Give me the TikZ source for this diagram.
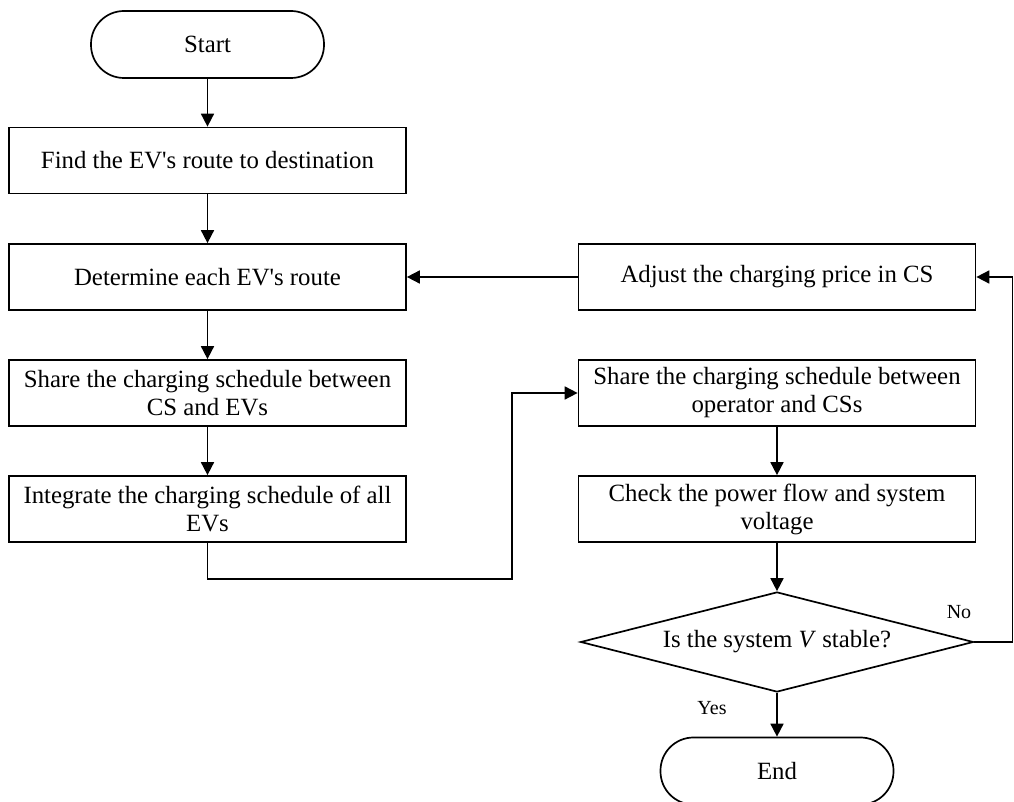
\documentclass[tikz,border=0pt]{standalone}
\usepackage{fontspec}
\setmainfont{Liberation Serif}
\usepackage{tikz}
\usetikzlibrary{arrows.meta,shapes.geometric,positioning}

\tikzset{
	proc/.style={draw,rectangle,line width=0.85pt,minimum width=198.5pt,minimum height=33pt,
		inner sep=1pt,align=center,font=\fontsize{12.4}{14}\selectfont},
	term/.style={draw,rectangle,rounded corners=16.5pt,line width=0.85pt,minimum width=116.5pt,
		minimum height=33.5pt,font=\fontsize{12.4}{14}\selectfont},
	decide/.style={draw,diamond,aspect=4,inner sep=0pt,line width=0.85pt,minimum width=196.5pt,
		minimum height=50pt,font=\fontsize{12.4}{14}\selectfont},
	flow/.style={-{Triangle[length=6.5pt,width=6.5pt]},line width=0.85pt},
	lbl/.style={font=\fontsize{10}{12}\selectfont,inner sep=0pt}
}

\begin{document}
\begin{tikzpicture}[x=0.5pt,y=-0.5pt]

	\useasboundingbox (0,0) rectangle (1014,802);

	\node[term] (start) at (207.5,44.5) {Start};
	\node[proc] (find) at (207.5,160.5) {Find the EV\textquotesingle s route to destination};
	\node[proc] (det) at (207.5,277) {Determine each EV\textquotesingle s route};
	\node[proc] (shareL) at (207.5,393) {Share the charging schedule between\\CS and EVs};
	\node[proc] (integ) at (207.5,509) {Integrate the charging schedule of all\\EVs};

	\node[proc] (adjust) at (777,277) {Adjust the charging price in CS};
	\node[proc] (shareR) at (777,393) {Share the charging schedule between\\operator and CSs};
	\node[proc] (check) at (777,509) {Check the power flow and system\\voltage};
	\node[decide] (dec) at (777,642) {Is the system \textit{V} stable?};
	\node[term] (stop) at (777,771) {End};

	\coordinate (bend) at (512,579);
	\coordinate (back) at (1012.5,642);

	\draw[flow] (start) -- (find);
	\draw[flow] (find) -- (det);
	\draw[flow] (det) -- (shareL);
	\draw[flow] (shareL) -- (integ);
	\draw[flow] (integ.south) |- (bend) |- (shareR.west);
	\draw[flow] (adjust.west) -- (det.east);
	\draw[flow] (shareR) -- (check);
	\draw[flow] (check) -- (dec);
	\draw[flow] (dec.south) -- (stop.north);
	\draw[flow] (dec.east) -- (back) |- (adjust.east);

	\node[lbl] (no) at (959,612) {No};
	\node[lbl] (yes) at (712,708) {Yes};

\end{tikzpicture}
\end{document}
